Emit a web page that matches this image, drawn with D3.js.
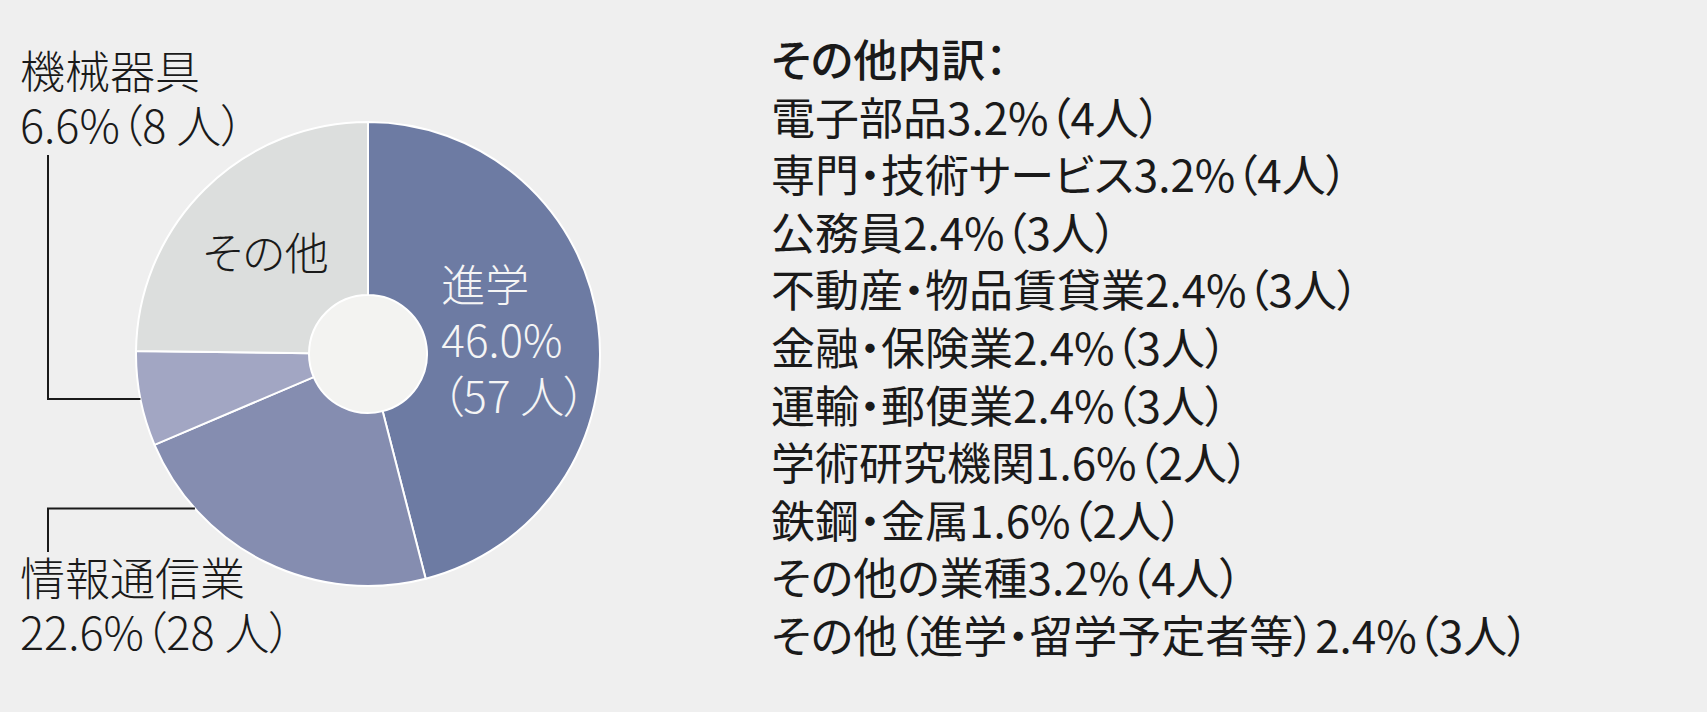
<!DOCTYPE html>
<html lang="ja">
<head>
<meta charset="utf-8">
<script src="https://cdn.jsdelivr.net/npm/d3@7"></script>
<style>
  html, body { margin: 0; padding: 0; background: #efefef; }
  svg { display: block; font-family: "Noto Sans CJK JP", "Noto Sans", sans-serif; }
  svg text { font-feature-settings: "palt"; }
</style>
</head>
<body>
<svg id="chart"></svg>
<script>
// main breakdown (pie)
const groups = ['進学', '情報通信業', '機械器具', 'その他'];
const groupPercents = [46.0, 22.6, 6.6, 24.8];
const groupCounts = [57, 28, 8, 31];
const groupColors = ['#6d7ba3', '#858db0', '#a2a6c3', '#dcdedd'];

// "その他" breakdown list
const otherItems = ['電子部品', '専門・技術サービス', '公務員', '不動産・物品賃貸業', '金融・保険業', '運輸・郵便業', '学術研究機関', '鉄鋼・金属', 'その他の業種', 'その他（進学・留学予定者等）'];
const otherPercents = [3.2, 3.2, 2.4, 2.4, 2.4, 2.4, 1.6, 1.6, 3.2, 2.4];
const otherCounts = [4, 4, 3, 3, 3, 3, 2, 2, 4, 3];

const width = 1707;
const height = 712;
const cx = 368, cy = 354;
const outerR = 232, innerR = 59;
const ink = '#1a1a1a';

const svg = d3.select('#chart').attr('width', width).attr('height', height).attr('viewBox', `0 0 ${width} ${height}`);
svg.append('rect').attr('width', width).attr('height', height).attr('fill', '#efefef');

const data = groups.map((g, i) => ({ name: g, pct: groupPercents[i], count: groupCounts[i], color: groupColors[i] }));
const pie = d3.pie().sort(null).value((d) => d.pct);
const arcs = pie(data);
const arc = d3.arc().innerRadius(innerR).outerRadius(outerR);

const g = svg.append('g').attr('transform', `translate(${cx},${cy})`);
g.append('circle').attr('r', innerR).attr('fill', '#f3f3f1');
g.selectAll('path.slice').data(arcs).join('path').attr('class', 'slice')
  .attr('d', arc).attr('fill', (d) => d.data.color).attr('stroke', '#fff').attr('stroke-width', 2);

// inside labels
const fs = 44;
const others = arcs[3];
const co = arc.centroid(others);
g.append('text').attr('x', co[0]).attr('y', co[1]).attr('dy', '0.45em').attr('text-anchor', 'middle')
  .attr('font-size', fs).attr('font-weight', 300).attr('fill', ink).text(others.data.name);

const shingaku = arcs[0];
const cs = arc.centroid(shingaku);
const sLines = [shingaku.data.name, `${shingaku.data.pct.toFixed(1)}%`, `（${shingaku.data.count} 人）`];
g.append('text').attr('font-size', fs).attr('font-weight', 300).attr('fill', '#f5f5f5')
  .selectAll('tspan').data(sLines).join('tspan')
  .attr('x', cs[0] - 71).attr('y', (d, i) => cs[1] - 34 + i * 55.5).text((d) => d);

// outside labels with leader lines
const lineX = 48;
const outside = [
  { a: arcs[2], t: 0.5, endY: 155, base: 89 },
  { a: arcs[1], t: 0.77, endY: 552, base: 596 },
];
outside.forEach((o) => {
  const ang = o.a.startAngle + (o.a.endAngle - o.a.startAngle) * o.t;
  const px = cx + outerR * Math.sin(ang);
  const py = cy - outerR * Math.cos(ang);
  svg.append('path').attr('d', `M${px},${py}H${lineX}V${o.endY}`)
    .attr('fill', 'none').attr('stroke', ink).attr('stroke-width', 2);
  svg.append('text').attr('font-size', 45).attr('font-weight', 300).attr('fill', ink)
    .selectAll('tspan').data([o.a.data.name, `${o.a.data.pct.toFixed(1)}%（${o.a.data.count} 人）`]).join('tspan')
    .attr('x', 20).attr('y', (d, i) => o.base + i * 54).text((d) => d);
});

// right list
const list = svg.append('g').attr('class', 'list').attr('transform', 'translate(771,77)');
const pitch = 57.6;
list.append('text').attr('font-size', fs).attr('font-weight', 500).attr('fill', ink).text('その他内訳：');
list.selectAll('text.row').data(otherItems).join('text').attr('class', 'row')
  .attr('y', (d, i) => (i + 1) * pitch).attr('font-size', fs).attr('font-weight', 400).attr('fill', ink)
  .text((d, i) => `${d}${otherPercents[i].toFixed(1)}%（${otherCounts[i]}人）`);
</script>
</body>
</html>
